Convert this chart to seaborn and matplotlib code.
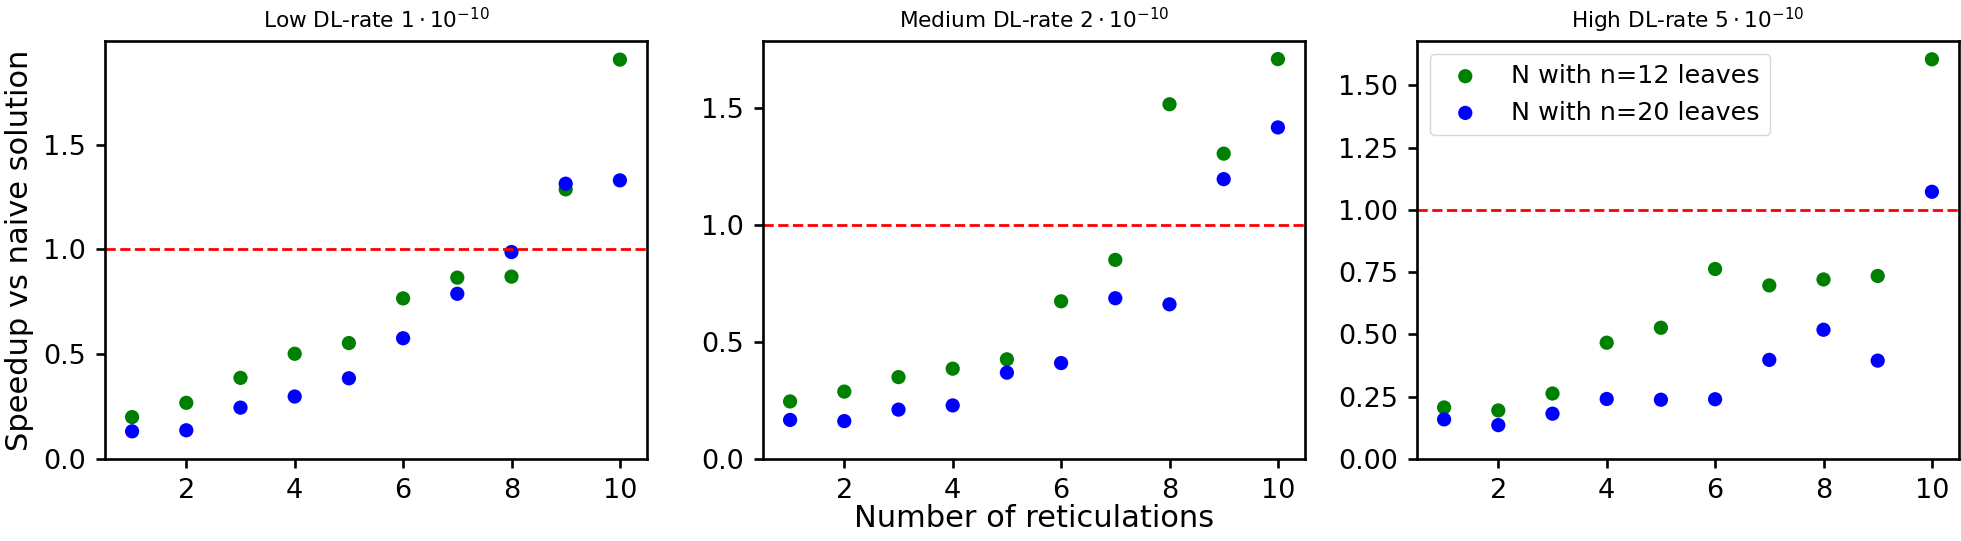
import matplotlib
matplotlib.use("Agg")
import matplotlib.pyplot as plt
from matplotlib.ticker import MultipleLocator
import seaborn as sns
import pandas as pd

reticulations = [1, 2, 3, 4, 5, 6, 7, 8, 9, 10]

titles = [r"Low DL-rate $1 \cdot 10^{-10}$",
          r"Medium DL-rate $2 \cdot 10^{-10}$",
          r"High DL-rate $5 \cdot 10^{-10}$"]

low_n12 = [0.200, 0.268, 0.387, 0.502, 0.553, 0.766, 0.865, 0.870, 1.286, 1.905]
low_n20 = [0.132, 0.137, 0.245, 0.298, 0.385, 0.576, 0.788, 0.987, 1.313, 1.329]
med_n12 = [0.246, 0.288, 0.350, 0.386, 0.426, 0.674, 0.851, 1.516, 1.305, 1.709]
med_n20 = [0.167, 0.162, 0.211, 0.229, 0.369, 0.410, 0.687, 0.661, 1.196, 1.417]
high_n12 = [0.207, 0.195, 0.263, 0.467, 0.527, 0.763, 0.697, 0.721, 0.735, 1.605]
high_n20 = [0.159, 0.136, 0.182, 0.241, 0.238, 0.240, 0.398, 0.519, 0.395, 1.073]

series_labels = ["N with n=12 leaves", "N with n=20 leaves"]
series_colors = ["green", "blue"]
panels = [(low_n12, low_n20), (med_n12, med_n20), (high_n12, high_n20)]
ytick_steps = [0.5, 0.5, 0.25]

plt.rcParams.update({
    "axes.linewidth": 1.9,
    "xtick.major.width": 1.9,
    "ytick.major.width": 1.9,
    "xtick.major.size": 6.5,
    "ytick.major.size": 6.5,
    "xtick.major.pad": 7.0,
    "ytick.major.pad": 7.0,
    "xtick.labelsize": 19.5,
    "ytick.labelsize": 19.5,
    "font.family": ["DejaVu Sans"],
})

W, H = 1961, 541
fig = plt.figure(figsize=(W / 100, H / 100), dpi=100)
lefts = [105, 763, 1417]
axw = 542
bottom_px, top_px = 459, 41
axes = []
for l in lefts:
    ax = fig.add_axes([l / W, (H - bottom_px) / H, axw / W, (bottom_px - top_px) / H])
    axes.append(ax)

for i, (ax, (s12, s20)) in enumerate(zip(axes, panels)):
    for vals, lab, col in zip((s12, s20), series_labels, series_colors):
        df = pd.DataFrame({"x": reticulations, "y": vals})
        sns.scatterplot(data=df, x="x", y="y", ax=ax, color=col, s=105,
                        linewidth=0, edgecolor="none", label=lab, legend=(i == 2))
    ax.axhline(1.0, color="red", linestyle="--", linewidth=2.0)
    ax.set_xlim(0.5, 10.5)
    ax.set_ylim(bottom=0)
    ax.yaxis.set_major_locator(MultipleLocator(ytick_steps[i]))
    ax.set_title(titles[i], fontsize=15.6, pad=9)
    ax.set_xlabel("")
    ax.set_ylabel("")

axes[0].set_ylabel("Speedup vs naive solution", fontsize=22, labelpad=7)
axes[1].set_xlabel("Number of reticulations", fontsize=22, labelpad=0)
for ax in axes[:2]:
    leg = ax.get_legend()
    if leg is not None:
        leg.remove()
axes[2].legend(loc="upper left", fontsize=18.3)

fig.savefig("out.png", dpi=100)
